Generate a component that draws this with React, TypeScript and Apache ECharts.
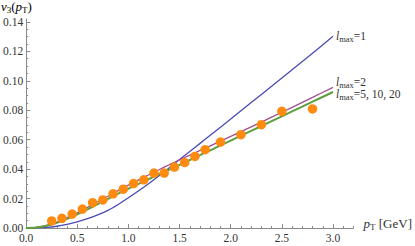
import React, { useEffect, useRef } from "react";
import * as echarts from "echarts";

// curve abscissae (GeV)
const curvePT = [0, 0.1, 0.2, 0.3, 0.4, 0.5, 0.6, 0.7, 0.8, 0.9, 1.0, 1.1, 1.2, 1.3, 1.4, 1.5, 1.6, 1.7, 1.8, 2.0, 2.2, 2.4, 2.6, 2.8, 3.0];
// l_max = 1 (blue)
const lmax1 = [0, 0.0001, 0.0004, 0.0012, 0.0025, 0.0042, 0.0063, 0.0089, 0.012, 0.016, 0.0205, 0.0253, 0.0303, 0.0355, 0.041, 0.0465, 0.052, 0.0575, 0.063, 0.074, 0.0852, 0.0963, 0.1075, 0.1188, 0.1302];
// l_max = 2 (purple)
const lmax2 = [0, 0.0003, 0.0017, 0.004, 0.007, 0.0103, 0.014, 0.0178, 0.0216, 0.0254, 0.0291, 0.0327, 0.0362, 0.0396, 0.043, 0.0463, 0.0495, 0.0527, 0.0558, 0.0622, 0.0687, 0.0753, 0.082, 0.0888, 0.0956];
// l_max = 5, 10, 20 (green)
const lmax5 = [0, 0.0003, 0.0015, 0.0035, 0.0062, 0.0093, 0.0127, 0.0162, 0.0198, 0.0233, 0.0267, 0.03, 0.0333, 0.0365, 0.0397, 0.0429, 0.0462, 0.0495, 0.0528, 0.0594, 0.066, 0.0726, 0.0792, 0.0858, 0.0924];
// data points (orange)
const dataPT = [0.25, 0.35, 0.45, 0.55, 0.65, 0.75, 0.85, 0.95, 1.05, 1.15, 1.25, 1.35, 1.45, 1.55, 1.65, 1.75, 1.9, 2.1, 2.3, 2.5, 2.8];
const dataV3 = [0.0048, 0.0066, 0.0095, 0.0129, 0.0172, 0.0191, 0.0232, 0.0264, 0.0302, 0.0327, 0.0373, 0.0373, 0.0414, 0.0445, 0.0486, 0.0532, 0.0584, 0.0634, 0.0702, 0.0793, 0.0809];

// ticks
const xMajorTicks = [0, 0.5, 1.0, 1.5, 2.0, 2.5, 3.0];
const xMinorTicks = [0.1, 0.2, 0.3, 0.4, 0.6, 0.7, 0.8, 0.9, 1.1, 1.2, 1.3, 1.4, 1.6, 1.7, 1.8, 1.9, 2.1, 2.2, 2.3, 2.4, 2.6, 2.7, 2.8, 2.9, 3.1, 3.2];
const yMajorTicks = [0, 0.02, 0.04, 0.06, 0.08, 0.1, 0.12, 0.14];
const yMinorTicks = [0.005, 0.01, 0.015, 0.025, 0.03, 0.035, 0.045, 0.05, 0.055, 0.065, 0.07, 0.075, 0.085, 0.09, 0.095, 0.105, 0.11, 0.115, 0.125, 0.13, 0.135];

const FONT = "Liberation Serif";
const AXIS_COLOR = "#8a8a8a";
const LABEL_COLOR = "#333";

const richLabel = {
  l: { fontFamily: FONT, fontStyle: "italic", fontSize: 11.5, color: LABEL_COLOR },
  s: { fontFamily: FONT, fontSize: 8.5, color: LABEL_COLOR, padding: [6, 0, 0, 0] },
  n: { fontFamily: FONT, fontSize: 11.5, color: LABEL_COLOR },
};
const richTitle = {
  l: { fontFamily: FONT, fontStyle: "italic", fontSize: 13, color: LABEL_COLOR },
  s: { fontFamily: FONT, fontSize: 9, color: LABEL_COLOR, padding: [7, 0, 0, 0] },
  n: { fontFamily: FONT, fontSize: 13, color: LABEL_COLOR },
};

const X_MIN = 0, X_MAX = 3.2, Y_MIN = 0, Y_MAX = 0.142;

export default function App() {
  const ref = useRef<HTMLDivElement>(null);
  useEffect(() => {
    if (!ref.current) return;
    const chart = echarts.init(ref.current, null, { renderer: "svg" });
    const pts = (ys: number[]) => curvePT.map((x, i) => [x, ys[i]]);
    const mkLine = (name: string, ys: number[], color: string, width: number, label: string, offset: number[]) => ({
      name,
      type: "line",
      data: pts(ys),
      smooth: 0.3,
      showSymbol: false,
      symbol: "none",
      lineStyle: { color, width },
      endLabel: {
        show: true,
        formatter: () => label,
        distance: 3,
        offset,
        rich: richLabel,
      },
      z: 2,
    });
    chart.setOption({
      animation: false,
      backgroundColor: "#fff",
      grid: { left: 24, right: 57, top: 19, bottom: 18, containLabel: false },
      xAxis: [
        {
          type: "value",
          min: X_MIN,
          max: X_MAX,
          position: "bottom",
          axisLine: { show: true, onZero: false, lineStyle: { color: AXIS_COLOR, width: 1 } },
          axisTick: { show: true, inside: true, length: 4, customValues: xMajorTicks, lineStyle: { color: AXIS_COLOR } },
          axisLabel: {
            show: true,
            customValues: xMajorTicks,
            margin: 4,
            fontFamily: FONT,
            fontSize: 11.5,
            color: LABEL_COLOR,
            formatter: (v: number) => v.toFixed(1),
          },
          splitLine: { show: false },
          name: "{l|p}{s|T} {n|[GeV]}",
          nameLocation: "end",
          nameGap: 10,
          nameTextStyle: { rich: richTitle, padding: [0, 0, 9, 0], align: "left" },
        },
        {
          type: "value",
          min: X_MIN,
          max: X_MAX,
          position: "bottom",
          axisLine: { show: false, onZero: false },
          axisTick: { show: true, inside: true, length: 2, customValues: xMinorTicks, lineStyle: { color: AXIS_COLOR } },
          axisLabel: { show: false },
          splitLine: { show: false },
        },
      ],
      yAxis: [
        {
          type: "value",
          min: Y_MIN,
          max: Y_MAX,
          position: "left",
          axisLine: { show: true, onZero: false, lineStyle: { color: AXIS_COLOR, width: 1 } },
          axisTick: { show: true, inside: true, length: 4, customValues: yMajorTicks, lineStyle: { color: AXIS_COLOR } },
          axisLabel: {
            show: true,
            customValues: yMajorTicks,
            margin: 3,
            fontFamily: FONT,
            fontSize: 11.5,
            color: LABEL_COLOR,
            formatter: (v: number) => v.toFixed(2),
          },
          splitLine: { show: false },
        },
        {
          type: "value",
          min: Y_MIN,
          max: Y_MAX,
          position: "left",
          axisLine: { show: false, onZero: false },
          axisTick: { show: true, inside: true, length: 2, customValues: yMinorTicks, lineStyle: { color: AXIS_COLOR } },
          axisLabel: { show: false },
          splitLine: { show: false },
        },
      ],
      graphic: [
        {
          type: "text",
          left: 1,
          top: 0,
          style: {
            text: "{l|ν}{s|3}{n|(}{l|p}{s|T}{n|)}",
            rich: richTitle,
          },
        },
      ],
      series: [
        mkLine("lmax1", lmax1, "#4B4BB4", 1.3, "{l|l}{s|max}{n|=1}", [0, 0]),
        mkLine("lmax2", lmax2, "#A04D8E", 1.3, "{l|l}{s|max}{n|=2}", [0, -5]),
        mkLine("lmax5", lmax5, "#5E9E3C", 2, "{l|l}{s|max}{n|=5, 10, 20}", [0, 2]),
        {
          name: "data",
          type: "scatter",
          data: dataPT.map((x, i) => [x, dataV3[i]]),
          symbol: "circle",
          symbolSize: 9.5,
          itemStyle: { color: "#FF8A10", opacity: 1 },
          z: 5,
        },
      ],
    });
    return () => chart.dispose();
  }, []);
  return <div ref={ref} style={{ position: "fixed", left: 0, top: 0, width: 415, height: 246 }} />;
}
